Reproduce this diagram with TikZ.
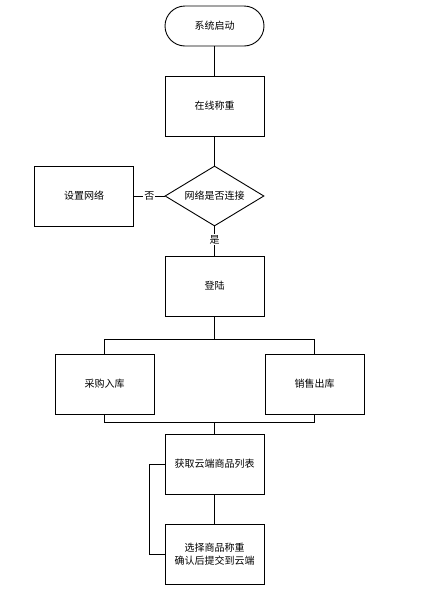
\documentclass[tikz,border=0pt]{standalone}
\usepackage{fontspec}
\setmainfont{Noto Sans CJK SC}
\usetikzlibrary{shapes.geometric}
\begin{document}
\begin{tikzpicture}[x=1pt,y=-1pt,
  box/.style={draw,line width=0.9pt,minimum width=99pt,minimum height=60pt,inner sep=0pt,align=center,font=\fontsize{10}{13}\selectfont},
  term/.style={draw,line width=0.9pt,rounded corners=20pt,minimum width=99pt,minimum height=40pt,inner sep=0pt,font=\fontsize{10}{13}\selectfont},
  dec/.style={draw,line width=0.9pt,diamond,aspect=1.65,minimum width=99pt,minimum height=60pt,inner sep=0pt,font=\fontsize{10}{13}\selectfont},
  conn/.style={line width=0.9pt},
  lbl/.style={fill=white,inner sep=1pt,font=\fontsize{10}{13}\selectfont}]
\useasboundingbox (0,0) rectangle (432,595);
\node[term] (start) at (214.5,26) {系统启动};
\node[box] (weigh) at (214.5,106) {在线称重};
\node[dec] (net) at (214.5,196) {网络是否连接};
\node[box] (setnet) at (84,196) {设置网络};
\node[box] (login) at (214.5,286) {登陆};
\node[box] (buy) at (104.5,384) {采购入库};
\node[box] (sell) at (314.5,384) {销售出库};
\node[box] (list) at (214.5,464) {获取云端商品列表};
\node[box] (sel) at (214.5,554) {选择商品称重\\确认后提交到云端};
\coordinate (b1) at (214.5,339);
\coordinate (b2) at (214.5,422);
\coordinate (lp) at (149.5,464);
\draw[conn] (start) -- (weigh);
\draw[conn] (weigh) -- (net);
\draw[conn] (net) -- node[lbl] {否} (setnet);
\draw[conn] (net) -- node[lbl,pos=0.45] {是} (login);
\draw[conn] (login) -- (b1) -| (buy);
\draw[conn] (b1) -| (sell);
\draw[conn] (buy) |- (b2);
\draw[conn] (sell) |- (b2);
\draw[conn] (b2) -- (list);
\draw[conn] (list) -- (sel);
\draw[conn] (sel.west) -| (lp) -- (list.west);
\end{tikzpicture}
\end{document}
